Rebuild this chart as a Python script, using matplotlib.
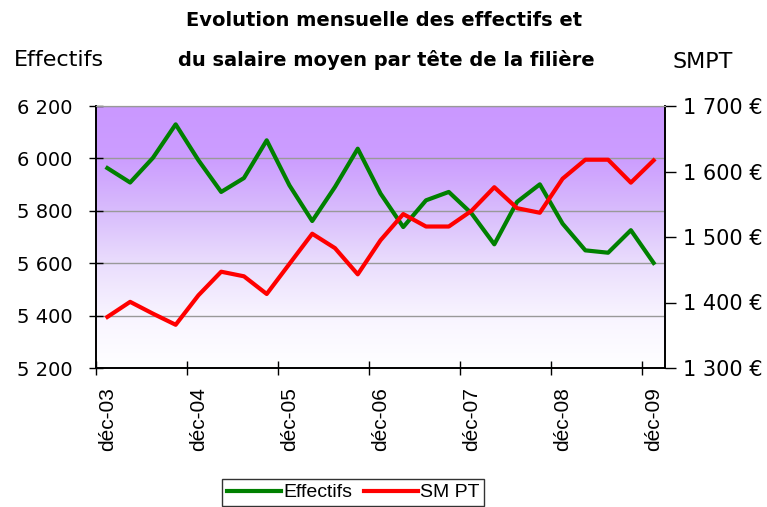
import numpy as np
import matplotlib.pyplot as plt
from matplotlib.colors import LinearSegmentedColormap

# quarterly values, déc-03 .. déc-09
effectifs = [5963, 5908, 6002, 6130, 5993, 5872, 5925, 6069, 5897, 5761,
             5891, 6037, 5866, 5738, 5840, 5872, 5790, 5672, 5834, 5901,
             5751, 5649, 5640, 5726, 5601]
smpt = [1378, 1401, 1383, 1366, 1411, 1447, 1440, 1413, 1459, 1505,
        1483, 1443, 1495, 1535, 1516, 1516, 1540, 1576, 1544, 1537,
        1589, 1618, 1618, 1583, 1617]
x_labels = ['déc-03', 'déc-04', 'déc-05', 'déc-06', 'déc-07', 'déc-08', 'déc-09']
left_ticks = [5200, 5400, 5600, 5800, 6000, 6200]
left_labels = ['5 200', '5 400', '5 600', '5 800', '6 000', '6 200']
right_ticks = [1300, 1400, 1500, 1600, 1700]
right_labels = ['1 300 €', '1 400 €', '1 500 €', '1 600 €', '1 700 €']

fig = plt.figure(figsize=(7.67, 5.07), dpi=100)
ax = fig.add_axes([96/767, 1-368/507, 569/767, 262/507])

# purple -> white background gradient
cmap = LinearSegmentedColormap.from_list('bg', [(0, '#FFFFFF'), (0.2, '#F8F4FF'), (0.4, '#EADDFD'),
                                                (0.6, '#D8BCFC'), (0.8, '#CC9DFF'), (1, '#CA98FF')])
grad = np.linspace(1, 0, 256).reshape(-1, 1)
ax.imshow(grad, cmap=cmap, extent=[0, 1, 0, 1], transform=ax.transAxes,
          aspect='auto', zorder=0, vmin=0, vmax=1)

x = np.arange(len(effectifs))
ax.plot(x, effectifs, color='#008000', lw=3, zorder=3, label='Effectifs')
ax.set_xlim(-0.5, len(x) - 0.5)
ax.set_ylim(5200, 6200)
ax.set_yticks(left_ticks, left_labels, fontsize=14)
ax.grid(axis='y', color='#999999', lw=1, zorder=1)
ax.set_axisbelow(True)

ax.set_xticks(x[::4], x_labels, rotation=90, fontsize=15, family='Liberation Sans')
ax.set_xticks(np.arange(-0.5, len(x) - 1, 4), minor=True)
ax.tick_params(axis='x', which='major', length=0, pad=14)
ax.tick_params(axis='x', which='minor', length=10, direction='inout', width=1)
ax.tick_params(axis='y', length=10, direction='inout', width=1, pad=12)

ax2 = ax.twinx()
ax2.plot(x, smpt, color='#FF0000', lw=3, zorder=3, label='SM PT')
ax2.set_ylim(1300, 1700)
ax2.set_yticks(right_ticks, right_labels, fontsize=15)
ax2.tick_params(axis='y', length=8, direction='out', width=1, pad=5)

for a in (ax, ax2):
    a.spines['top'].set_color('#999999')
    for s in ('left', 'bottom', 'right'):
        a.spines[s].set_color('black')
        a.spines[s].set_linewidth(1.2)

fig.text(384/767, 1-20/507, 'Evolution mensuelle des effectifs et', ha='center', va='center',
         fontsize=14, fontweight='bold')
fig.text(386/767, 1-60/507, 'du salaire moyen par tête de la filière', ha='center', va='center',
         fontsize=14, fontweight='bold')
fig.text(14/767, 1-60/507, 'Effectifs', ha='left', va='center', fontsize=16)
fig.text(672/767, 1-62/507, 'SMPT', ha='left', va='center', fontsize=16)

h1, l1 = ax.get_legend_handles_labels()
h2, l2 = ax2.get_legend_handles_labels()
leg = fig.legend(h1 + h2, l1 + l2, loc='upper center', bbox_to_anchor=(353/767, 1-479/507),
                 ncol=2, prop={'family': 'Liberation Sans', 'size': 14},
                 frameon=True, fancybox=False, edgecolor='black', handlelength=2.8,
                 handletextpad=0.1, columnspacing=0.6, borderaxespad=0, borderpad=0.25)
leg.get_frame().set_linewidth(1)

fig.savefig('out.png', dpi=100)
